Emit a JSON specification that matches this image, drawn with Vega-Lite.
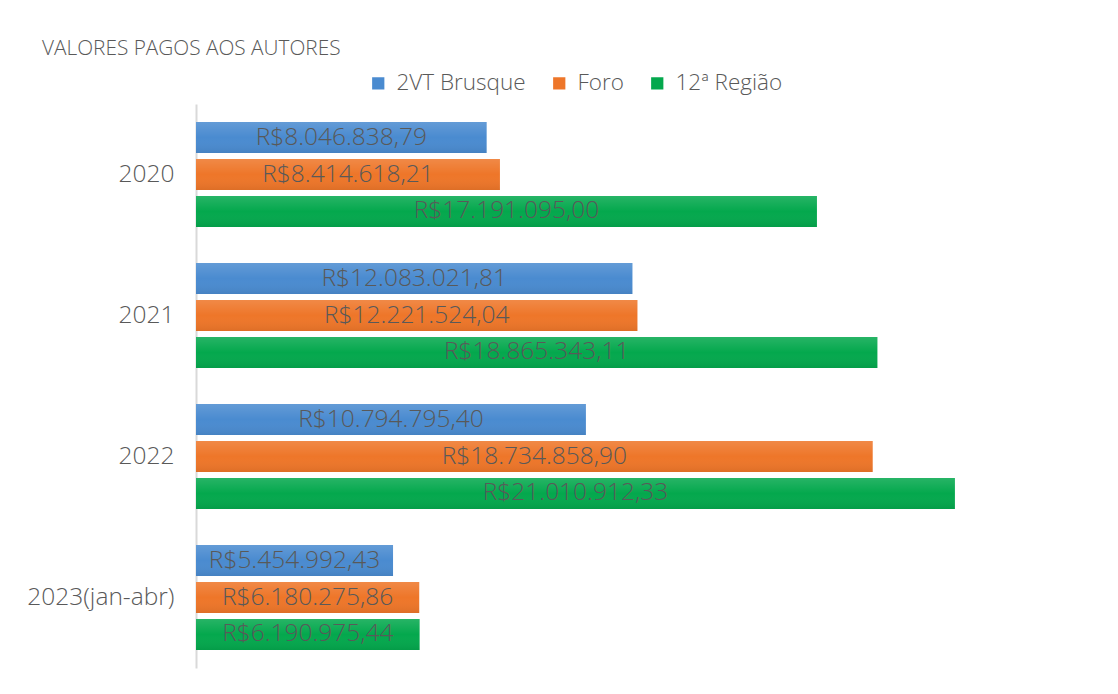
{
  "$schema": "https://vega.github.io/schema/vega-lite/v6.json",
  "width": 903,
  "height": 564,
  "autosize": "none",
  "padding": {"left": 196, "top": 104, "right": 19, "bottom": 26},
  "background": "white",
  "title": {
    "text": "VALORES PAGOS AOS AUTORES",
    "anchor": "start",
    "frame": "group",
    "dx": -154,
    "offset": 12,
    "font": "Open Sans",
    "fontSize": 20.8,
    "fontWeight": 300,
    "color": "#595959"
  },
  "config": {
    "locale": {
      "number": {"decimal": ",", "thousands": ".", "grouping": [3], "currency": ["R$", ""]}
    },
    "view": {"stroke": null},
    "font": "Open Sans"
  },
  "data": {
    "values": [
      {"ano": "2020", "serie": "2VT Brusque", "valor": 8046838.79},
      {"ano": "2020", "serie": "Foro", "valor": 8414618.21},
      {"ano": "2020", "serie": "12ª Região", "valor": 17191095.00},
      {"ano": "2021", "serie": "2VT Brusque", "valor": 12083021.81},
      {"ano": "2021", "serie": "Foro", "valor": 12221524.04},
      {"ano": "2021", "serie": "12ª Região", "valor": 18865343.11},
      {"ano": "2022", "serie": "2VT Brusque", "valor": 10794795.40},
      {"ano": "2022", "serie": "Foro", "valor": 18734858.90},
      {"ano": "2022", "serie": "12ª Região", "valor": 21010912.33},
      {"ano": "2023(jan-abr)", "serie": "2VT Brusque", "valor": 5454992.43},
      {"ano": "2023(jan-abr)", "serie": "Foro", "valor": 6180275.86},
      {"ano": "2023(jan-abr)", "serie": "12ª Região", "valor": 6190975.44}
    ]
  },
  "encoding": {
    "y": {
      "field": "ano",
      "type": "nominal",
      "sort": ["2020", "2021", "2022", "2023(jan-abr)"],
      "scale": {"paddingInner": 0.255, "paddingOuter": 0.1275},
      "axis": {
        "title": null,
        "ticks": false,
        "domainColor": "#d9d9d9",
        "domainWidth": 2,
        "labelFontSize": 24.5,
        "labelFontWeight": 300,
        "labelColor": "#595959",
        "labelPadding": 22,
        "labelFont": "Open Sans"
      }
    },
    "yOffset": {
      "field": "serie",
      "type": "nominal",
      "sort": ["2VT Brusque", "Foro", "12ª Região"],
      "scale": {"paddingInner": 0.16, "paddingOuter": 0}
    }
  },
  "layer": [
    {
      "mark": {"type": "bar", "cornerRadius": 0},
      "encoding": {
        "x": {
          "field": "valor",
          "type": "quantitative",
          "scale": {"domain": [0, 25000000], "nice": false},
          "axis": null
        },
        "color": {
          "field": "serie",
          "type": "nominal",
          "sort": ["2VT Brusque", "Foro", "12ª Região"],
          "scale": {
            "domain": ["2VT Brusque", "Foro", "12ª Região"],
            "range": ["#4a8bd0", "#ee7629", "#04a84d"]
          },
          "legend": {
            "title": null,
            "orient": "none",
            "direction": "horizontal",
            "legendX": 171,
            "legendY": -32,
            "symbolType": "square",
            "symbolSize": 150,
            "symbolStrokeWidth": 0,
            "labelFontSize": 22.5,
            "labelFontWeight": 300,
            "labelColor": "#595959",
            "labelFont": "Open Sans",
            "columnPadding": 22,
            "labelOffset": 7
          }
        }
      }
    },
    {
      "mark": {
        "type": "bar",
        "fill": {"gradient": "linear", "x1": 0, "y1": 0, "x2": 0, "y2": 1, "stops": [{"offset": 0, "color": "rgba(255,255,255,0.14)"}, {"offset": 0.5, "color": "rgba(255,255,255,0)"}, {"offset": 1, "color": "rgba(0,0,0,0.07)"}]}
      },
      "encoding": {
        "x": {"field": "valor", "type": "quantitative", "scale": {"domain": [0, 25000000], "nice": false}, "axis": null}
      }
    },
    {
      "mark": {"type": "text", "fontSize": 24.5, "fontWeight": 300, "color": "#595959", "font": "Open Sans", "align": "center", "baseline": "middle"},
      "encoding": {
        "x": {"field": "valor", "type": "quantitative", "scale": {"domain": [0, 50000000], "nice": false}, "axis": null},
        "text": {"field": "valor", "type": "quantitative", "format": "$,.2f"}
      }
    }
  ],
  "resolve": {"scale": {"x": "independent"}}
}
